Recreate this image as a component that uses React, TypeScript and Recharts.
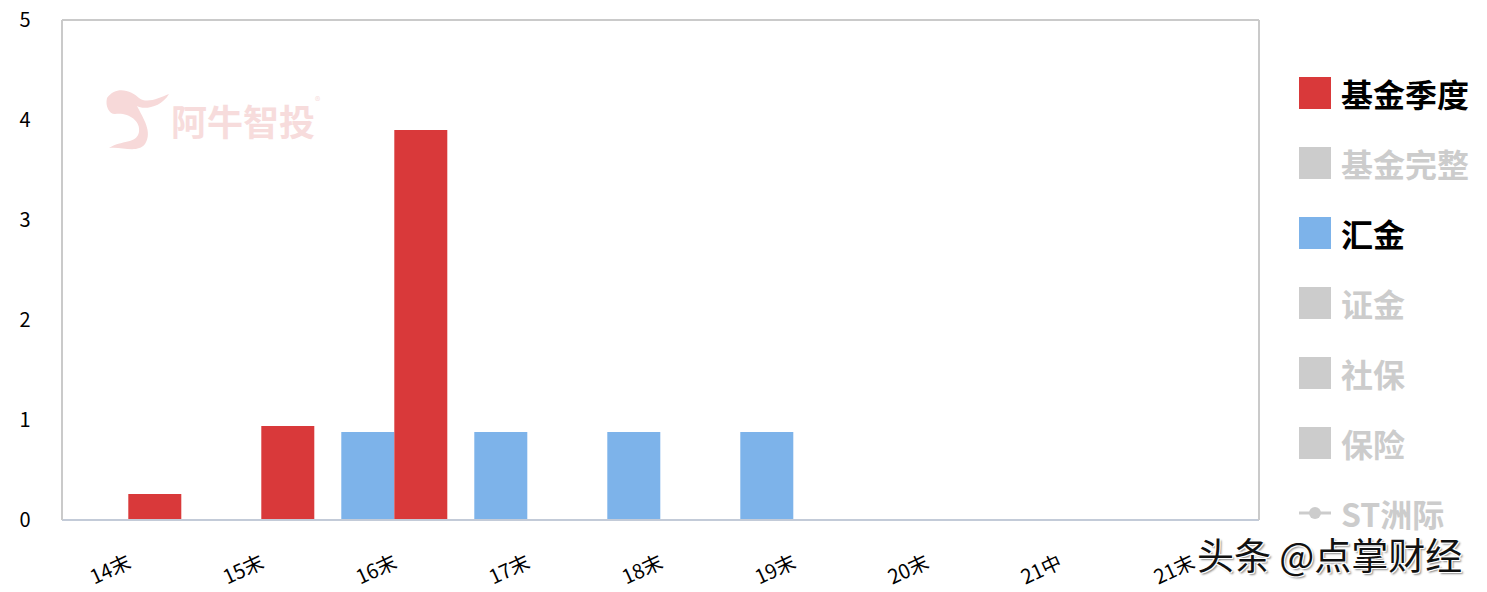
import React from 'react';
import { BarChart, Bar, XAxis, YAxis } from 'recharts';

const categories = ['14末', '15末', '16末', '17末', '18末', '19末', '20末', '21中', '21末'];
const huijin = [null, null, 0.88, 0.88, 0.88, 0.88, null, null, null];
const jijinJidu = [0.26, 0.94, 3.9, null, null, null, null, null, null];
const yTicks = [0, 1, 2, 3, 4, 5];

const legendItems = [
  { name: '基金季度', color: '#d9393a', active: true, type: 'square' },
  { name: '基金完整', color: '#cccccc', active: false, type: 'square' },
  { name: '汇金', color: '#7db3ea', active: true, type: 'square' },
  { name: '证金', color: '#cccccc', active: false, type: 'square' },
  { name: '社保', color: '#cccccc', active: false, type: 'square' },
  { name: '保险', color: '#cccccc', active: false, type: 'square' },
  { name: 'ST洲际', color: '#cccccc', active: false, type: 'line' },
];

const data = categories.map((c, i) => ({ cat: c, huijin: huijin[i], jijin: jijinJidu[i] }));

const FONT = '"Noto Sans CJK SC", "Noto Sans", sans-serif';

const XTick = (props: any) => {
  const { x, y, payload } = props;
  const ax = x + 4;
  const ay = y + 39;
  return (
    <text x={ax} y={ay} textAnchor="end" transform={`rotate(-25 ${ax} ${ay})`} fontSize={20} fontFamily={FONT} fill="#000">
      {payload.value}
    </text>
  );
};

const YTick = (props: any) => {
  const { y, payload } = props;
  return (
    <text x={25} y={y} dy={7} textAnchor="middle" fontSize={20} fontFamily={FONT} fill="#000">
      {payload.value}
    </text>
  );
};

const LegendBlock = () => (
  <div style={{ position: 'absolute', left: 1299, top: 58, fontFamily: FONT }}>
    {legendItems.map((it) => (
      <div key={it.name} style={{ height: 70, display: 'flex', alignItems: 'center' }}>
        {it.type === 'square' ? (
          <div style={{ width: 32, height: 32, background: it.color, marginRight: 10 }} />
        ) : (
          <svg width={32} height={32} style={{ marginRight: 10 }}>
            <line x1={0} y1={16} x2={32} y2={16} stroke={it.color} strokeWidth={3} />
            <circle cx={16} cy={16} r={6} fill={it.color} />
          </svg>
        )}
        <span style={{ fontSize: 32, fontWeight: 700, color: it.active ? '#000' : '#cccccc', lineHeight: 1 }}>
          {it.name}
        </span>
      </div>
    ))}
  </div>
);

export default function App() {
  return (
    <div style={{ position: 'absolute', left: 0, top: 0, width: 1487, height: 592, background: '#fff', overflow: 'hidden' }}>
      <BarChart
        width={1487}
        height={592}
        data={data}
        margin={{ top: 19, right: 227, left: 0, bottom: 22 }}
        barCategoryGap="10%"
        barGap={0}
      >
        <XAxis
          dataKey="cat"
          tick={<XTick />}
          tickLine={false}
          axisLine={{ stroke: '#c3cbd8', strokeWidth: 2 }}
          height={50}
          interval={0}
        />
        <XAxis xAxisId="top" orientation="top" dataKey="cat" tick={false} tickLine={false} height={1} axisLine={{ stroke: '#cacaca', strokeWidth: 2 }} />
        <YAxis
          domain={[0, 5]}
          ticks={yTicks}
          tick={<YTick />}
          tickLine={false}
          axisLine={{ stroke: '#cacaca', strokeWidth: 2 }}
          width={62}
          interval={0}
        />
        <YAxis yAxisId="right" orientation="right" domain={[0, 5]} tick={false} tickLine={false} width={1} axisLine={{ stroke: '#cacaca', strokeWidth: 2 }} />
        <Bar dataKey="huijin" fill="#7db3ea" isAnimationActive={false} />
        <Bar dataKey="jijin" fill="#d9393a" isAnimationActive={false} />
      </BarChart>
      <LegendBlock />
      <div style={{ position: 'absolute', left: 103, top: 84, display: 'flex', alignItems: 'center', pointerEvents: 'none' }}>
        <svg width={70} height={72}>
          <path d="M4 14 C14 0 30 8 36 14 C44 20 56 14 66 10 C58 24 40 26 34 22 C40 34 50 48 42 60 C34 70 18 62 6 64 C18 56 34 60 36 48 C38 36 24 28 12 30 C6 30 2 22 4 14 Z" fill="#f7d9d9" />
        </svg>
        <span style={{ fontFamily: FONT, fontSize: 36, fontWeight: 700, color: '#f7dcdc', marginLeft: -2 }}>阿牛智投</span>
        <span style={{ fontFamily: FONT, fontSize: 11, color: '#f7dcdc', alignSelf: 'flex-start', marginTop: 8 }}>®</span>
      </div>
      <div
        style={{
          position: 'absolute',
          left: 1197,
          top: 527,
          fontFamily: FONT,
          fontSize: 37,
          color: '#111',
          textShadow: '1px 1px 0 #fff, -1px -1px 0 #fff, 1px -1px 0 #fff, -1px 1px 0 #fff, 2px 2px 2px #888',
          whiteSpace: 'nowrap',
        }}
      >
        头条 @点掌财经
      </div>
    </div>
  );
}
